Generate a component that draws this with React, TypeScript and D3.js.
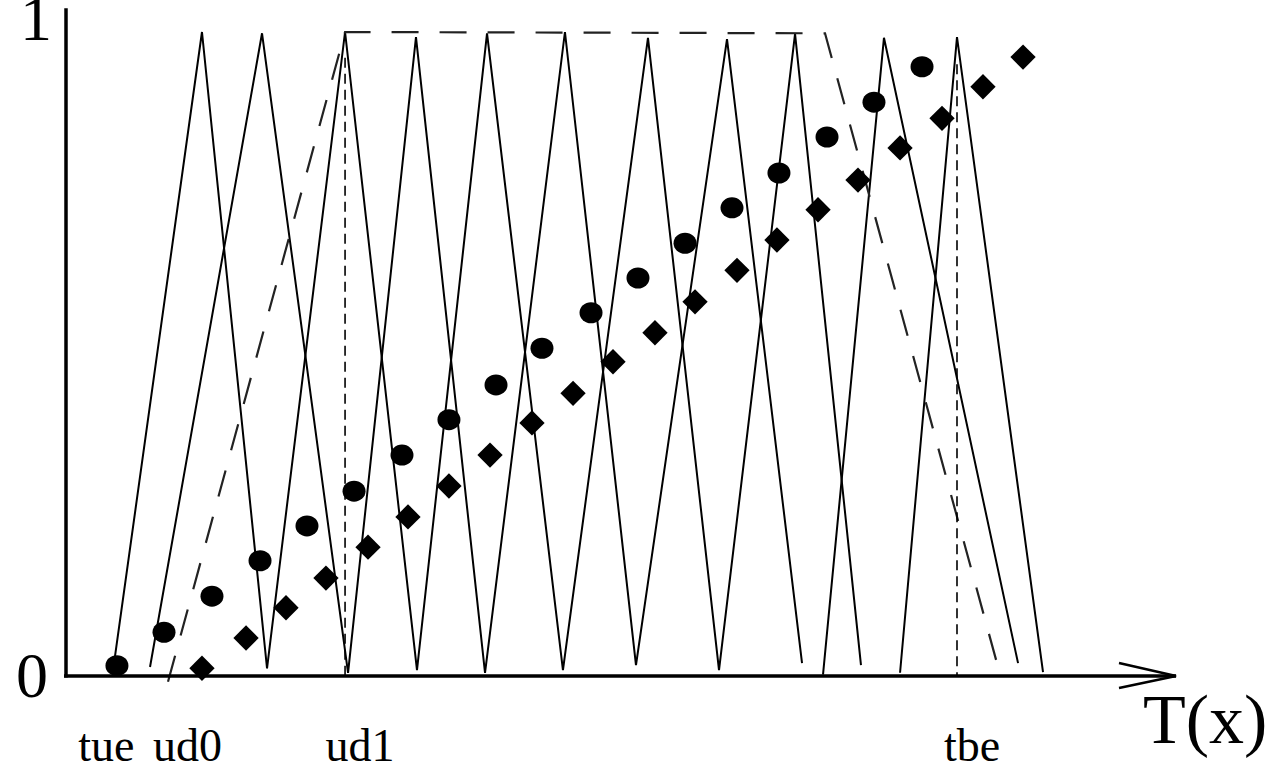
import * as d3 from 'd3';
import React from 'react';

// membership functions (T in 0..100, mu in 0..1)
const peakT = [12.25, 17.66, 25.14, 31.53, 37.93, 44.95, 52.43, 59.55, 65.68, 73.69, 80.27];
const peakMu = [1.0, 0.998, 1.0, 0.992, 0.998, 1.0, 0.991, 0.989, 0.997, 0.991, 0.992];
const leftFootT = [4.41, 7.57, 18.11, 25.41, 31.62, 37.75, 44.77, 51.35, 58.83, 68.2, 75.14];
const leftFootMu = [0.03, 0.014, 0.012, 0.005, 0.009, 0.005, 0.009, 0.017, 0.009, 0.002, 0.005];
const rightFootT = [18.11, 25.41, 31.62, 37.75, 44.77, 51.35, 58.83, 66.31, 71.62, 85.77, 88.02];
const rightFootMu = [0.012, 0.005, 0.009, 0.005, 0.009, 0.017, 0.009, 0.02, 0.017, 0.02, 0.006];

// dashed trapezoid
const trapT = [9.19, 25.14, 68.38, 83.87];
const trapMu = [-0.009, 1.0, 0.998, 0.02];

// dotted series
const circleT = [4.59, 8.83, 13.15, 17.48, 21.71, 25.95, 30.27, 34.5, 38.74, 42.88, 47.3, 51.53, 55.77, 60.0, 64.23, 68.56, 72.79, 77.12];
const circleMu = [0.016, 0.068, 0.124, 0.179, 0.233, 0.287, 0.343, 0.398, 0.452, 0.509, 0.564, 0.618, 0.672, 0.727, 0.781, 0.837, 0.891, 0.946];
const diamondT = [12.25, 16.22, 19.82, 23.42, 27.21, 30.81, 34.5, 38.2, 41.98, 45.68, 49.28, 53.06, 56.67, 60.45, 64.05, 67.75, 71.35, 75.14, 78.92, 82.61, 86.22];
const diamondMu = [0.012, 0.059, 0.106, 0.152, 0.2, 0.247, 0.295, 0.343, 0.393, 0.439, 0.488, 0.533, 0.581, 0.63, 0.677, 0.724, 0.77, 0.82, 0.866, 0.915, 0.961];

// vertical dashed markers
const markerT = [25.14, 80.27];
const markerTop = [0.96, 0.95];

// labels under the axis
const tickNames = ['tue', 'ud0', 'ud1', 'tbe'];
const tickT = [3.64, 10.95, 26.49, 81.62];

const W = 1270;
const H = 766;
const serif = '"Liberation Serif", "Times New Roman", serif';

export default function App() {
  const x = d3.scaleLinear().domain([0, 100]).range([66, 1176]);
  const y = d3.scaleLinear().domain([0, 1]).range([676, 32]);

  const line = d3.line<[number, number]>()
    .x(d => x(d[0]))
    .y(d => y(d[1]));

  const triangles = peakT.map((p, i) => line([
    [leftFootT[i], leftFootMu[i]],
    [p, peakMu[i]],
    [rightFootT[i], rightFootMu[i]],
  ]));

  const trap = line(trapT.map((t, i) => [t, trapMu[i]] as [number, number]));
  const diamond = d3.symbol().type(d3.symbolSquare).size(320)();

  const x0 = x(0), x1 = x(100), y0 = y(0);

  return (
    <svg width={W} height={H} style={{ position: 'absolute', left: 0, top: 0, background: '#fff' }}>
      {/* triangles */}
      {triangles.map((d, i) => (
        <path key={'t' + i} d={d || ''} fill="none" stroke="#000" strokeWidth={2} strokeLinejoin="miter" />
      ))}

      {/* trapezoid */}
      <path d={trap || ''} fill="none" stroke="#222" strokeWidth={2.2} strokeDasharray="27,21" />

      {/* vertical markers */}
      {markerT.map((t, i) => (
        <line key={'m' + i} x1={x(t)} x2={x(t)} y1={y(markerTop[i])} y2={y0}
          stroke="#000" strokeWidth={1.6} strokeDasharray="10,6" />
      ))}

      {/* circles */}
      {circleT.map((t, i) => (
        <ellipse key={'c' + i} cx={x(t)} cy={y(circleMu[i])} rx={11.5} ry={10.5} fill="#000" />
      ))}

      {/* diamonds */}
      {diamondT.map((t, i) => (
        <path key={'d' + i} d={diamond || ''} fill="#000"
          transform={`translate(${x(t)},${y(diamondMu[i])}) rotate(45)`} />
      ))}

      {/* axes */}
      <line x1={x0} x2={x0} y1={y(1.037)} y2={y0 + 1.5} stroke="#000" strokeWidth={3.5} />
      <line x1={x0 - 2} x2={x1} y1={y0} y2={y0} stroke="#000" strokeWidth={3.5} />
      <path d={`M${x1 - 57},${y0 - 13}L${x1},${y0}L${x1 - 57},${y0 + 12}`}
        fill="none" stroke="#000" strokeWidth={2.5} />

      {/* labels */}
      <text x={36} y={y(1) + 8} fontFamily={serif} fontSize={64} textAnchor="middle">1</text>
      <text x={32} y={y0 + 21} fontFamily={serif} fontSize={64} textAnchor="middle">0</text>
      {tickNames.map((n, i) => (
        <text key={n} x={x(tickT[i])} y={761} fontFamily={serif} fontSize={46} textAnchor="middle">{n}</text>
      ))}
      <text x={x(97.03)} y={743} fontFamily={serif} fontSize={70}>T(x)</text>
    </svg>
  );
}
